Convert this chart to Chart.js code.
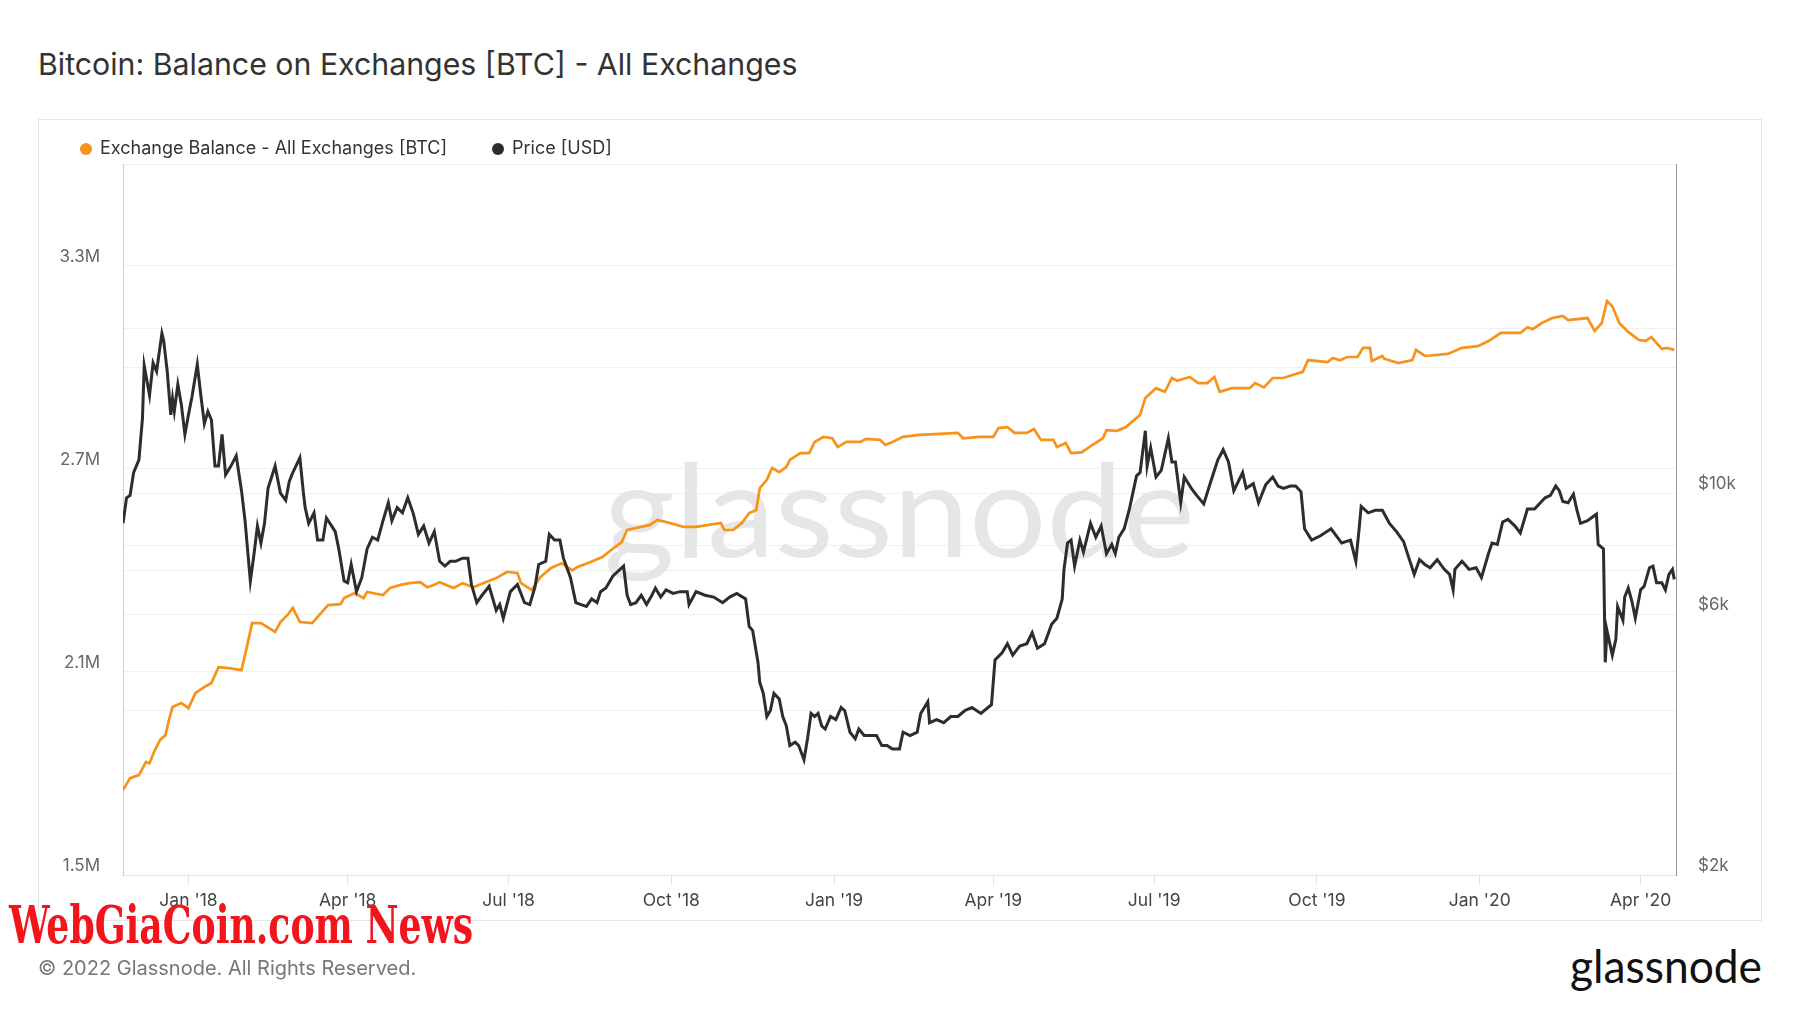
<!DOCTYPE html>
<html>
<head>
<meta charset="utf-8">
<script src="https://cdn.jsdelivr.net/npm/chart.js@4.4.0/dist/chart.umd.min.js"></script>
<style>
  body { margin: 0; width: 1800px; height: 1013px; background: #fff; position: relative; overflow: hidden; font-family: Inter, "Noto Sans", sans-serif; }
  #title { position: absolute; left: 38px; top: 43px; font-size: 30.3px; line-height: 42px; color: #333; white-space: nowrap; }
  #box { position: absolute; left: 38px; top: 119px; width: 1724px; height: 802px; border: 1px solid #e6e6e6; box-sizing: border-box; }
  #box canvas { position: absolute; left: 0; top: 0; }
  #copy { position: absolute; left: 38px; top: 954px; font-size: 20px; line-height: 28px; color: #777; white-space: nowrap; }
  #news { position: absolute; left: 9px; top: 893px; font-family: "DejaVu Serif Condensed", "DejaVu Serif", serif; font-weight: bold; font-size: 52px; line-height: 64px; color: #f2161c; white-space: nowrap; transform-origin: 0 50%; }
  #logo { position: absolute; left: 1570px; top: 938px; font-family: Lato, sans-serif; font-size: 46px; line-height: 56px; color: #111; white-space: nowrap; transform-origin: 0 50%; }
</style>
</head>
<body>
<div id="title">Bitcoin: Balance on Exchanges [BTC] - All Exchanges</div>
<div id="box"><canvas id="chart" width="1722" height="800"></canvas></div>
<div id="news">WebGiaCoin.com News</div>
<div id="copy">© 2022 Glassnode. All Rights Reserved.</div>
<div id="logo">glassnode</div>
<script>
// x axis ticks
var xTickDates = ['2018-01-01','2018-04-01','2018-07-01','2018-10-01','2019-01-01','2019-04-01','2019-07-01','2019-10-01','2020-01-01','2020-04-01'];
var xTickLabels = ["Jan '18","Apr '18","Jul '18","Oct '18","Jan '19","Apr '19","Jul '19","Oct '19","Jan '20","Apr '20"];
var xStart = '2017-11-25';
var xEnd = '2020-04-21';

// left axis (millions of BTC)
var balanceGrid = [1.5, 1.8, 2.1, 2.4, 2.7, 3.0, 3.3, 3.6];
var balanceLabelled = [1.5, 2.1, 2.7, 3.3];

// right axis (USD, log)
var priceGrid = [2000, 4000, 6000, 8000, 10000, 20000, 40000];
var priceLabelled = [2000, 6000, 10000];

// exchange balance, millions of BTC
var balanceDates = ['2017-11-25','2017-11-29','2017-12-04','2017-12-08','2017-12-10','2017-12-13','2017-12-16','2017-12-19','2017-12-21','2017-12-23','2017-12-28',
  '2018-01-01','2018-01-05','2018-01-09','2018-01-14','2018-01-18','2018-01-24','2018-01-31','2018-02-03','2018-02-06','2018-02-11','2018-02-19','2018-02-22','2018-02-26',
  '2018-03-01','2018-03-05','2018-03-12','2018-03-16','2018-03-21','2018-03-28','2018-03-30','2018-04-05','2018-04-10','2018-04-12','2018-04-21','2018-04-25',
  '2018-05-01','2018-05-06','2018-05-12','2018-05-16','2018-05-20','2018-05-23','2018-05-31','2018-06-05','2018-06-11','2018-06-18','2018-06-24','2018-06-30',
  '2018-07-06','2018-07-08','2018-07-14','2018-07-19','2018-07-25','2018-07-31','2018-08-06','2018-08-09','2018-08-16','2018-08-23','2018-08-28',
  '2018-09-03','2018-09-06','2018-09-11','2018-09-19','2018-09-23','2018-09-30','2018-10-08','2018-10-15','2018-10-29','2018-10-31','2018-11-05','2018-11-10',
  '2018-11-14','2018-11-18','2018-11-20','2018-11-24','2018-11-27','2018-12-01','2018-12-05','2018-12-07','2018-12-13','2018-12-18','2018-12-21','2018-12-26','2018-12-31',
  '2019-01-03','2019-01-08','2019-01-16','2019-01-19','2019-01-27','2019-01-30','2019-02-03','2019-02-09','2019-02-18','2019-03-02','2019-03-12','2019-03-15','2019-03-24',
  '2019-04-01','2019-04-04','2019-04-09','2019-04-13','2019-04-20','2019-04-24','2019-04-28','2019-05-05','2019-05-07','2019-05-12','2019-05-15','2019-05-21','2019-05-27',
  '2019-06-02','2019-06-04','2019-06-10','2019-06-15','2019-06-23','2019-06-26','2019-07-02','2019-07-07','2019-07-11','2019-07-14','2019-07-21','2019-07-26','2019-07-31',
  '2019-08-04','2019-08-07','2019-08-14','2019-08-24','2019-08-27','2019-09-01','2019-09-06','2019-09-12','2019-09-23','2019-09-26','2019-10-07','2019-10-10','2019-10-14',
  '2019-10-18','2019-10-24','2019-10-27','2019-10-31','2019-11-01','2019-11-07','2019-11-08','2019-11-16','2019-11-24','2019-11-26','2019-12-01','2019-12-14','2019-12-22','2019-12-31',
  '2020-01-06','2020-01-13','2020-01-24','2020-01-28','2020-01-31','2020-02-05','2020-02-11','2020-02-17','2020-02-20','2020-03-02','2020-03-06','2020-03-10','2020-03-13',
  '2020-03-16','2020-03-20','2020-03-25','2020-03-31','2020-04-04','2020-04-07','2020-04-13','2020-04-16','2020-04-20'];
var balanceValues = [1.751,1.786,1.795,1.834,1.830,1.869,1.899,1.913,1.958,1.996,2.008,
  1.993,2.038,2.052,2.067,2.114,2.111,2.105,2.173,2.244,2.244,2.218,2.247,2.268,
  2.289,2.247,2.244,2.268,2.297,2.300,2.318,2.333,2.318,2.336,2.327,2.348,
  2.357,2.362,2.365,2.350,2.357,2.365,2.348,2.362,2.350,2.365,2.377,2.395,
  2.392,2.362,2.342,2.380,2.407,2.421,2.400,2.410,2.424,2.439,2.460,
  2.483,2.519,2.525,2.534,2.549,2.540,2.528,2.528,2.540,2.519,2.519,2.540,
  2.569,2.578,2.643,2.667,2.702,2.690,2.705,2.726,2.746,2.746,2.779,2.794,2.790,
  2.764,2.779,2.779,2.788,2.785,2.770,2.779,2.794,2.800,2.803,2.806,2.790,2.794,
  2.794,2.820,2.823,2.806,2.806,2.817,2.785,2.785,2.764,2.776,2.746,2.748,2.770,
  2.790,2.814,2.812,2.823,2.859,2.909,2.938,2.927,2.968,2.960,2.971,2.953,2.953,
  2.971,2.927,2.938,2.938,2.953,2.940,2.968,2.968,2.986,3.021,3.015,3.027,3.020,
  3.030,3.030,3.057,3.057,3.018,3.033,3.025,3.012,3.021,3.051,3.033,3.039,3.057,3.062,
  3.077,3.101,3.101,3.118,3.112,3.130,3.145,3.151,3.139,3.145,3.107,3.130,3.195,
  3.180,3.130,3.104,3.080,3.078,3.089,3.054,3.057,3.051];

// price, USD
var priceDates = ['2017-11-25','2017-11-27','2017-11-29','2017-12-01','2017-12-04','2017-12-06','2017-12-07','2017-12-10','2017-12-12','2017-12-14','2017-12-17','2017-12-18',
  '2017-12-20','2017-12-22','2017-12-23','2017-12-24','2017-12-26','2017-12-28','2017-12-30',
  '2018-01-01','2018-01-03','2018-01-06','2018-01-08','2018-01-10','2018-01-12','2018-01-14','2018-01-16','2018-01-18','2018-01-20','2018-01-22','2018-01-25','2018-01-28','2018-01-31',
  '2018-02-02','2018-02-05','2018-02-07','2018-02-09','2018-02-11','2018-02-13','2018-02-15','2018-02-19','2018-02-22','2018-02-25','2018-02-27',
  '2018-03-01','2018-03-05','2018-03-07','2018-03-08','2018-03-10','2018-03-13','2018-03-15','2018-03-18','2018-03-20','2018-03-23','2018-03-25','2018-03-27','2018-03-30',
  '2018-04-01','2018-04-03','2018-04-06','2018-04-09','2018-04-12','2018-04-15','2018-04-18','2018-04-21','2018-04-24','2018-04-26','2018-04-29',
  '2018-05-02','2018-05-05','2018-05-08','2018-05-11','2018-05-14','2018-05-17','2018-05-20','2018-05-23','2018-05-26','2018-05-29',
  '2018-06-01','2018-06-05','2018-06-08','2018-06-10','2018-06-13','2018-06-16','2018-06-20','2018-06-24','2018-06-26','2018-06-28',
  '2018-07-02','2018-07-06','2018-07-10','2018-07-13','2018-07-16','2018-07-18','2018-07-22','2018-07-24','2018-07-27','2018-07-30',
  '2018-08-01','2018-08-05','2018-08-08','2018-08-11','2018-08-14','2018-08-17','2018-08-20','2018-08-22','2018-08-25','2018-08-29',
  '2018-09-01','2018-09-04','2018-09-06','2018-09-08','2018-09-11','2018-09-14','2018-09-17','2018-09-20','2018-09-22','2018-09-25','2018-09-28',
  '2018-10-02','2018-10-06','2018-10-10','2018-10-11','2018-10-15','2018-10-20','2018-10-25','2018-10-30',
  '2018-11-03','2018-11-07','2018-11-12','2018-11-14','2018-11-16','2018-11-19','2018-11-20','2018-11-22','2018-11-24','2018-11-26','2018-11-28',
  '2018-12-01','2018-12-03','2018-12-05','2018-12-07','2018-12-10','2018-12-12','2018-12-15','2018-12-17','2018-12-19','2018-12-21','2018-12-23','2018-12-25','2018-12-27','2018-12-30',
  '2019-01-02','2019-01-05','2019-01-07','2019-01-10','2019-01-13','2019-01-15','2019-01-18','2019-01-22','2019-01-25','2019-01-28','2019-01-31',
  '2019-02-03','2019-02-07','2019-02-09','2019-02-13','2019-02-17','2019-02-19','2019-02-23','2019-02-24','2019-02-28',
  '2019-03-04','2019-03-08','2019-03-12','2019-03-16','2019-03-20','2019-03-25','2019-03-31',
  '2019-04-02','2019-04-06','2019-04-09','2019-04-12','2019-04-16','2019-04-20','2019-04-23','2019-04-26','2019-04-30',
  '2019-05-04','2019-05-07','2019-05-10','2019-05-11','2019-05-13','2019-05-15','2019-05-17','2019-05-20','2019-05-22','2019-05-26','2019-05-29',
  '2019-06-01','2019-06-04','2019-06-07','2019-06-09','2019-06-11','2019-06-14','2019-06-17','2019-06-21','2019-06-23','2019-06-26','2019-06-27','2019-06-29',
  '2019-07-02','2019-07-05','2019-07-09','2019-07-11','2019-07-13','2019-07-16','2019-07-18','2019-07-22','2019-07-25','2019-07-29',
  '2019-08-02','2019-08-06','2019-08-09','2019-08-12','2019-08-15','2019-08-20','2019-08-22','2019-08-26','2019-08-29',
  '2019-09-02','2019-09-06','2019-09-09','2019-09-12','2019-09-16','2019-09-19','2019-09-22','2019-09-24','2019-09-28',
  '2019-10-03','2019-10-09','2019-10-15','2019-10-20','2019-10-23','2019-10-25','2019-10-26','2019-10-30',
  '2019-11-03','2019-11-07','2019-11-11','2019-11-15','2019-11-19','2019-11-22','2019-11-25','2019-11-28',
  '2019-12-01','2019-12-04','2019-12-08','2019-12-12','2019-12-15','2019-12-17','2019-12-18','2019-12-22','2019-12-26','2019-12-30',
  '2020-01-02','2020-01-06','2020-01-08','2020-01-11','2020-01-14','2020-01-17','2020-01-21','2020-01-24','2020-01-28',
  '2020-02-01','2020-02-05','2020-02-07','2020-02-10','2020-02-13','2020-02-15','2020-02-17','2020-02-20','2020-02-23','2020-02-25','2020-02-27',
  '2020-03-02','2020-03-05','2020-03-07','2020-03-08','2020-03-11','2020-03-12','2020-03-13','2020-03-16','2020-03-18','2020-03-19','2020-03-22','2020-03-23','2020-03-25','2020-03-27','2020-03-29',
  '2020-04-01','2020-04-03','2020-04-06','2020-04-08','2020-04-10','2020-04-13','2020-04-15','2020-04-17','2020-04-19','2020-04-20'];
var priceValues = [8800,9800,9900,10900,11500,13700,17100,15100,17300,16700,19600,19000,
  16700,13900,14900,14100,15800,14500,12800,
  13900,15000,17200,15100,13400,14100,13600,11200,11200,12800,10800,11200,11700,10100,
  8900,6900,7700,8700,8100,8800,10200,11200,10000,9700,10500,
  10900,11600,10000,9400,8800,9200,8200,8200,9000,8700,8500,7900,6900,
  6850,7400,6600,7000,7900,8300,8200,8900,9600,8900,9400,
  9200,9800,9200,8400,8700,8100,8500,7500,7350,7500,
  7500,7600,7600,6800,6300,6500,6750,6100,6250,5900,
  6600,6800,6300,6250,6750,7400,7500,8400,8200,8200,
  7600,7000,6300,6250,6200,6400,6300,6600,6700,7050,
  7200,7350,6500,6250,6300,6500,6250,6500,6700,6450,6650,
  6550,6600,6600,6250,6600,6500,6450,6300,
  6450,6550,6400,5700,5600,4900,4500,4300,3900,4000,4300,
  4200,3900,3750,3450,3500,3450,3250,3550,3950,3900,3950,3750,3700,3900,
  3850,4050,4000,3650,3550,3700,3600,3600,3600,3450,3450,
  3400,3400,3650,3600,3650,3950,4150,3800,3850,
  3800,3900,3900,4000,4050,3950,4100,
  4950,5100,5300,5050,5250,5300,5550,5200,5300,
  5750,5900,6400,7250,8100,8200,7350,8200,7800,8800,8300,
  8700,7750,8050,7750,8300,8600,9350,10750,10900,13000,11200,12100,
  10700,11000,12600,11400,11400,9600,10700,10200,9900,9550,
  10500,11500,12000,11400,10100,10900,10200,10400,9600,
  10350,10700,10300,10200,10300,10300,10050,8600,8200,
  8350,8600,8100,8200,7500,8700,9450,9200,
  9300,9300,8800,8500,8150,7600,7100,7550,
  7400,7300,7550,7250,7100,6650,7250,7500,7250,7300,
  7000,7750,8100,8050,8850,8950,8700,8450,9350,
  9350,9650,9800,9900,10300,10100,9650,9600,9950,9300,8800,
  8900,9050,9150,8050,7900,4900,5600,5050,5400,6200,5850,6450,6700,6350,5900,
  6650,6750,7300,7350,6850,6850,6650,7100,7250,6950];

var EPOCH = Date.UTC(2018, 0, 1);
function dayOf(s) { return (Date.parse(s + 'T00:00:00Z') - EPOCH) / 86400000; }
function pairs(dates, values) { return dates.map(function (d, i) { return { x: dayOf(d), y: values[i] }; }); }

var orange = '#f7931a';
var dark = '#2d2d2d';

Chart.defaults.font.family = 'Inter, "Noto Sans", sans-serif';

var watermark = {
  id: 'watermark',
  beforeDatasetsDraw: function (chart) {
    var ctx = chart.ctx, a = chart.chartArea;
    ctx.save();
    ctx.font = '130px Lato, sans-serif';
    ctx.fillStyle = '#e6e6e6';
    ctx.textAlign = 'center';
    ctx.textBaseline = 'alphabetic';
    var w = ctx.measureText('glassnode').width;
    var cx = a.left + (a.right - a.left) * 0.4999;
    ctx.translate(cx, a.top + 393);
    ctx.scale(591 / w, 1);
    ctx.fillText('glassnode', 0, 0);
    ctx.restore();
  }
};

var legendRow = {
  id: 'legendRow',
  afterDraw: function (chart) {
    var ctx = chart.ctx;
    var x = 47, y = 29;
    ctx.save();
    ctx.font = '18px Inter, "Noto Sans", sans-serif';
    ctx.textBaseline = 'middle';
    chart.data.datasets.forEach(function (ds) {
      ctx.fillStyle = ds.borderColor;
      ctx.beginPath();
      ctx.arc(x, y, 6, 0, Math.PI * 2);
      ctx.fill();
      ctx.fillStyle = '#333';
      ctx.fillText(ds.label, x + 14, y);
      x += 14 + ctx.measureText(ds.label).width + 51;
    });
    ctx.restore();
  }
};

new Chart(document.getElementById('chart'), {
  type: 'line',
  data: {
    datasets: [
      {
        label: 'Exchange Balance - All Exchanges [BTC]',
        data: pairs(balanceDates, balanceValues),
        borderColor: orange,
        borderWidth: 2.7,
        pointRadius: 0,
        tension: 0,
        yAxisID: 'y',
        order: 1
      },
      {
        label: 'Price [USD]',
        data: pairs(priceDates, priceValues),
        borderColor: dark,
        borderWidth: 3,
        pointRadius: 0,
        tension: 0,
        yAxisID: 'y1',
        order: 0
      }
    ]
  },
  options: {
    responsive: false,
    animation: false,
    devicePixelRatio: 1,
    layout: { padding: { top: 44, left: 0, right: 0, bottom: 0 } },
    plugins: { legend: { display: false }, tooltip: { enabled: false } },
    scales: {
      x: {
        type: 'linear',
        min: dayOf(xStart),
        max: dayOf(xEnd),
        afterBuildTicks: function (s) { s.ticks = xTickDates.map(function (d) { return { value: dayOf(d) }; }); },
        afterFit: function (s) { s.height = 45; },
        grid: { drawOnChartArea: false, color: '#e3e3e3', tickLength: 10 },
        border: { color: '#e3e3e3' },
        ticks: {
          autoSkip: false, maxRotation: 0, padding: 5, color: '#444', font: { size: 17.5 },
          callback: function (v, i) { return xTickLabels[i]; }
        }
      },
      y: {
        position: 'left',
        min: 1.5,
        max: 3.6,
        afterBuildTicks: function (s) { s.ticks = balanceGrid.map(function (v) { return { value: v }; }); },
        afterFit: function (s) { s.width = 84; },
        grid: { color: '#f0f0f0', drawTicks: false },
        border: { color: 'rgba(247,147,26,0.55)' },
        ticks: {
          padding: 23, labelOffset: -9, color: '#666', font: { size: 17 },
          callback: function (v) { return balanceLabelled.indexOf(v) >= 0 ? v.toFixed(1) + 'M' : ''; }
        }
      },
      y1: {
        type: 'logarithmic',
        position: 'right',
        min: 2000,
        max: 40000,
        afterBuildTicks: function (s) { s.ticks = priceGrid.map(function (v) { return { value: v }; }); },
        afterFit: function (s) { s.width = 85; },
        grid: { color: '#f0f0f0', drawTicks: false },
        border: { color: '#9a9a9a' },
        ticks: {
          padding: 22, labelOffset: -9, color: '#666', font: { size: 17 },
          callback: function (v) { return priceLabelled.indexOf(v) >= 0 ? '$' + (v / 1000) + 'k' : ''; }
        }
      }
    }
  },
  plugins: [watermark, legendRow]
});

// fit the two text marks to their width in the picture
function fitWidth(id, target) {
  var el = document.getElementById(id);
  var w = el.getBoundingClientRect().width;
  el.style.transform = 'scaleX(' + (target / w) + ')';
}
fitWidth('news', 464);
fitWidth('logo', 192);
</script>
</body>
</html>
